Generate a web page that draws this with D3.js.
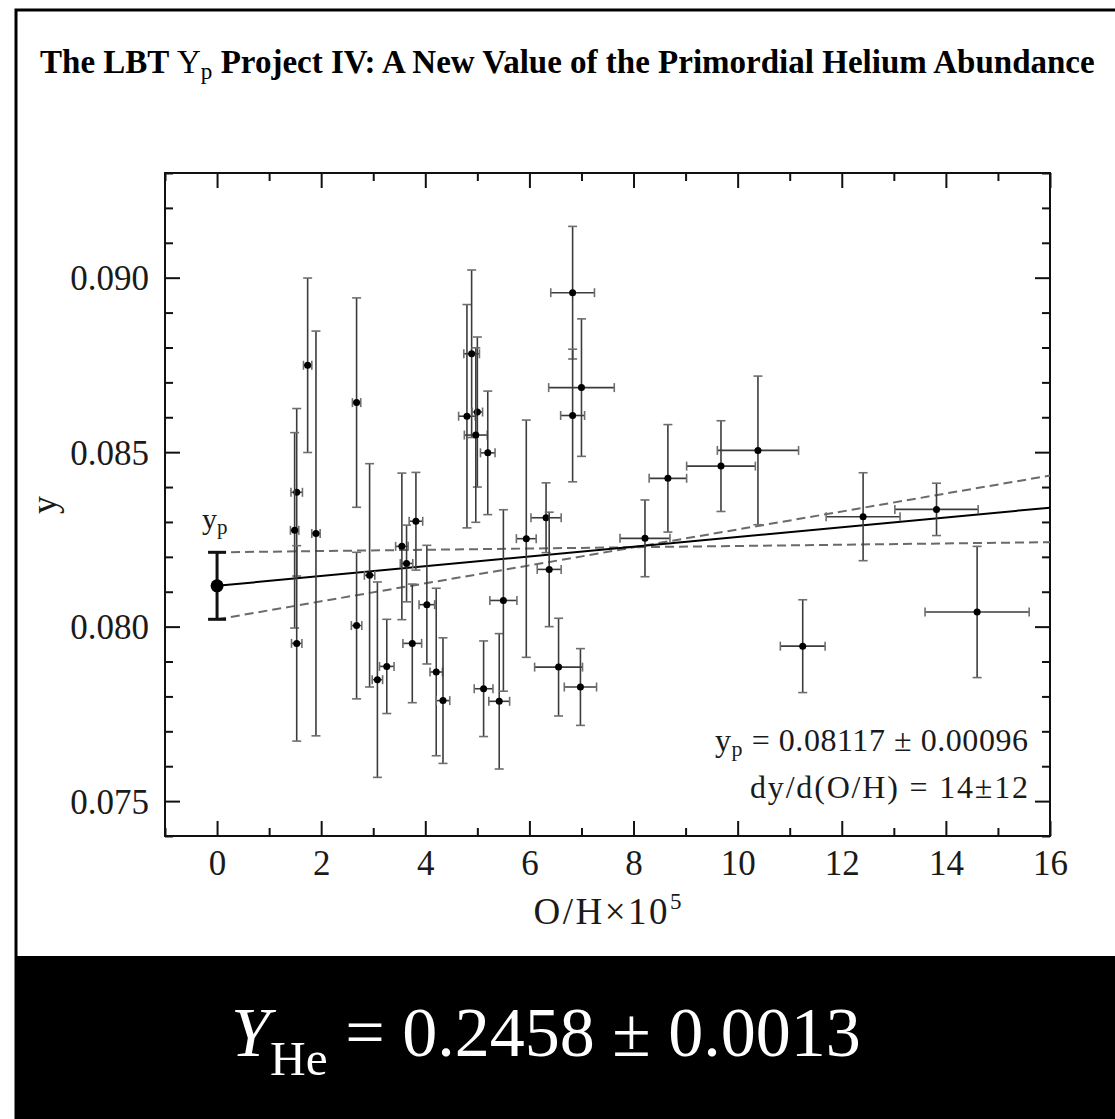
<!DOCTYPE html>
<html><head><meta charset="utf-8">
<script src="https://cdn.jsdelivr.net/npm/d3@7"></script>
<style>
html,body{margin:0;padding:0;background:#fff;}
svg{display:block;}
text{font-family:"Liberation Serif","Times New Roman",serif;}
</style></head>
<body>
<svg id="chart" width="1115" height="1119"></svg>
<script>
// ---------- data ----------
const ohValues = [1.53,1.49,1.53,1.74,1.90,2.68,2.68,2.93,3.08,3.26,3.55,3.64,3.75,3.82,4.03,4.21,4.34,4.80,4.89,5.00,4.97,5.20,5.12,5.42,5.50,5.94,6.32,6.38,6.56,6.83,6.83,7.00,6.98,8.22,8.66,9.68,10.39,11.25,12.41,13.82,14.60];
const ohErrors = [0.11,0.08,0.10,0.08,0.08,0.08,0.10,0.10,0.10,0.14,0.12,0.12,0.18,0.13,0.15,0.12,0.13,0.16,0.15,0.10,0.22,0.14,0.18,0.20,0.26,0.19,0.29,0.23,0.46,0.42,0.23,0.63,0.31,0.48,0.36,0.66,0.78,0.43,0.71,0.80,1.00];
const yValues = [0.08385,0.08276,0.07952,0.08749,0.08267,0.08642,0.08003,0.08147,0.07848,0.07886,0.08230,0.08181,0.07952,0.08302,0.08063,0.07870,0.07788,0.08603,0.08782,0.08615,0.08549,0.08498,0.07822,0.07786,0.08075,0.08252,0.08312,0.08164,0.07884,0.08957,0.08605,0.08685,0.07827,0.08253,0.08425,0.08460,0.08505,0.07944,0.08315,0.08336,0.08042];
const yErrors = [0.0024,0.0028,0.0028,0.0025,0.0058,0.0030,0.0021,0.0032,0.0028,0.00135,0.0021,0.0011,0.0017,0.0014,0.0017,0.0024,0.0018,0.0032,0.0024,0.00215,0.0025,0.00177,0.00137,0.00194,0.0026,0.0034,0.0010,0.00164,0.0014,0.0019,0.0019,0.00197,0.0011,0.0011,0.00154,0.0013,0.00213,0.00133,0.00126,0.00075,0.00188];

const ypValue = 0.08117, ypError = 0.00096;
const fitX = [0, 16];
const fitY = [0.08117, 0.08341];
const upperY = [0.08213, 0.08242];
const lowerY = [0.08021, 0.08433];

const xTicks = [0,2,4,6,8,10,12,14,16];
const xMinorTicks = [-1,1,3,5,7,9,11,13,15];
const yTicks = [0.075,0.080,0.085,0.090];
const yMinorTicks = [0.074,0.076,0.077,0.078,0.079,0.081,0.082,0.083,0.084,0.086,0.087,0.088,0.089,0.091,0.092,0.093];

const titleParts = ["The LBT ", "Y", "p", " Project IV: A New Value of the Primordial Helium Abundance"];
const resultParts = ["Y", "He", " = 0.2458 \u00b1 0.0013"];
const annot1 = ["y", "p", " = 0.08117 \u00b1 0.00096"];
const annot2 = "dy/d(O/H) = 14\u00b112";
const xLabel = ["O/H\u00d710", "5"];
const yLabel = "y";

// ---------- layout ----------
const svg = d3.select("#chart");
const L = 165, R = 1050, T = 173, B = 836;
const x = d3.scaleLinear().domain([-1, 16]).range([L, R]);
const y = d3.scaleLinear().domain([0.074, 0.093]).range([B, T]);
const txt = "#1a1a1a";

// outer frame and black band
svg.append("rect").attr("x",0).attr("y",0).attr("width",1115).attr("height",1119).attr("fill","#fff");
svg.append("rect").attr("x",16).attr("y",10).attr("width",1110).attr("height",1120)
  .attr("fill","none").attr("stroke","#000").attr("stroke-width",3);
svg.append("rect").attr("x",16).attr("y",956).attr("width",1100).attr("height",170).attr("fill","#000");

// title
const title = svg.append("text").attr("x",40).attr("y",73).attr("font-size",31).attr("fill","#000");
title.append("tspan").attr("font-weight","bold").text(titleParts[0]);
title.append("tspan").text(titleParts[1]);
title.append("tspan").attr("font-size","0.7em").attr("dy",6).text(titleParts[2]);
title.append("tspan").attr("font-weight","bold").attr("dy",-6).text(titleParts[3]);
(function fit(){ const w = title.node().getComputedTextLength(); const fs = 31*1055/w; title.attr("font-size",fs); })();

// plot group
const g = svg.append("g");

// axes via d3
const axB = d3.axisBottom(x).tickValues(xTicks).tickSize(-15).tickFormat(d=>d);
const axBm = d3.axisBottom(x).tickValues(xMinorTicks).tickSize(-8).tickFormat("");
const axT = d3.axisTop(x).tickValues(xTicks).tickSize(-15).tickFormat("");
const axTm = d3.axisTop(x).tickValues(xMinorTicks).tickSize(-8).tickFormat("");
const axL = d3.axisLeft(y).tickValues(yTicks).tickSize(-15).tickFormat(d3.format(".3f"));
const axLm = d3.axisLeft(y).tickValues(yMinorTicks).tickSize(-8).tickFormat("");
const axR = d3.axisRight(y).tickValues(yTicks).tickSize(-15).tickFormat("");
const axRm = d3.axisRight(y).tickValues(yMinorTicks).tickSize(-8).tickFormat("");

function styleAxis(sel){
  sel.select(".domain").remove();
  sel.selectAll(".tick line").attr("stroke","#111").attr("stroke-width",2);
  sel.selectAll(".tick text").attr("font-family","'Liberation Serif',serif").attr("font-size",35).attr("fill",txt);
}
g.append("g").attr("transform",`translate(0,${B})`).call(axB).call(styleAxis).selectAll(".tick text").attr("dy",null).attr("y",39);
g.append("g").attr("transform",`translate(0,${B})`).call(axBm).call(styleAxis);
g.append("g").attr("transform",`translate(0,${T})`).call(axT).call(styleAxis);
g.append("g").attr("transform",`translate(0,${T})`).call(axTm).call(styleAxis);
g.append("g").attr("transform",`translate(${L},0)`).call(axL).call(styleAxis).selectAll(".tick text").attr("x",-16).attr("dy","0.34em");
g.append("g").attr("transform",`translate(${L},0)`).call(axLm).call(styleAxis);
g.append("g").attr("transform",`translate(${R},0)`).call(axR).call(styleAxis);
g.append("g").attr("transform",`translate(${R},0)`).call(axRm).call(styleAxis);

// frame
g.append("rect").attr("x",L).attr("y",T).attr("width",R-L).attr("height",B-T)
  .attr("fill","none").attr("stroke","#111").attr("stroke-width",2);

// fit lines
const line = d3.line().x(d=>x(d[0])).y(d=>y(d[1]));
g.append("path").datum(fitX.map((v,i)=>[v,upperY[i]])).attr("d",line)
  .attr("stroke","#6a6a6a").attr("stroke-width",2).attr("stroke-dasharray","9,5").attr("fill","none");
g.append("path").datum(fitX.map((v,i)=>[v,lowerY[i]])).attr("d",line)
  .attr("stroke","#6a6a6a").attr("stroke-width",2).attr("stroke-dasharray","9,5").attr("fill","none");
g.append("path").datum(fitX.map((v,i)=>[v,fitY[i]])).attr("d",line)
  .attr("stroke","#000").attr("stroke-width",2).attr("fill","none");

// data with error bars
const data = ohValues.map((v,i)=>({x:v,xe:ohErrors[i],y:yValues[i],ye:yErrors[i]}));
const pts = g.append("g").selectAll("g").data(data).join("g");
const ec = "#3c3c3c", cc = "#6e6e6e";
pts.append("line").attr("x1",d=>x(d.x)).attr("x2",d=>x(d.x)).attr("y1",d=>y(d.y-d.ye)).attr("y2",d=>y(d.y+d.ye))
  .attr("stroke",ec).attr("stroke-width",1.6);
pts.append("line").attr("x1",d=>x(d.x-d.xe)).attr("x2",d=>x(d.x+d.xe)).attr("y1",d=>y(d.y)).attr("y2",d=>y(d.y))
  .attr("stroke",ec).attr("stroke-width",1.6);
[-1,1].forEach(s=>{
  pts.append("line").attr("x1",d=>x(d.x)-4.5).attr("x2",d=>x(d.x)+4.5).attr("y1",d=>y(d.y+s*d.ye)).attr("y2",d=>y(d.y+s*d.ye))
    .attr("stroke",cc).attr("stroke-width",1.6);
  pts.append("line").attr("x1",d=>x(d.x+s*d.xe)).attr("x2",d=>x(d.x+s*d.xe)).attr("y1",d=>y(d.y)-4.5).attr("y2",d=>y(d.y)+4.5)
    .attr("stroke",cc).attr("stroke-width",1.6);
});
pts.append("circle").attr("cx",d=>x(d.x)).attr("cy",d=>y(d.y)).attr("r",3.5).attr("fill","#000");

// yp point
g.append("line").attr("x1",x(0)).attr("x2",x(0)).attr("y1",y(ypValue-ypError)).attr("y2",y(ypValue+ypError))
  .attr("stroke","#111").attr("stroke-width",3);
[-1,1].forEach(s=>g.append("line").attr("x1",x(0)-9).attr("x2",x(0)+9)
  .attr("y1",y(ypValue+s*ypError)).attr("y2",y(ypValue+s*ypError)).attr("stroke","#111").attr("stroke-width",3));
g.append("circle").attr("cx",x(0)).attr("cy",y(ypValue)).attr("r",6.5).attr("fill","#000");

// yp label
const ypl = g.append("text").attr("x",x(0)-15).attr("y",529).attr("font-size",30).attr("fill",txt);
ypl.append("tspan").text("y");
ypl.append("tspan").attr("font-size",21).attr("dy",5).text("p");

// annotation
const a1 = g.append("text").attr("x",1028).attr("y",751).attr("font-size",32).attr("text-anchor","end").attr("fill",txt)
  .attr("textLength",313).attr("lengthAdjust","spacing");
a1.append("tspan").text(annot1[0]);
a1.append("tspan").attr("font-size",22).attr("dy",5).text(annot1[1]);
a1.append("tspan").attr("dy",-5).text(annot1[2]);
g.append("text").attr("x",1028).attr("y",798).attr("font-size",32).attr("text-anchor","end").attr("fill",txt)
  .attr("textLength",278).attr("lengthAdjust","spacing").text(annot2);

// axis labels
const xl = g.append("text").attr("x",(L+R)/2).attr("y",924).attr("font-size",37).attr("text-anchor","middle").attr("fill",txt)
  .attr("textLength",148).attr("lengthAdjust","spacing");
xl.append("tspan").text(xLabel[0]);
xl.append("tspan").attr("font-size",23).attr("dy",-15).text(xLabel[1]);
g.append("text").attr("transform","translate(56,505) rotate(-90)").attr("font-size",36).attr("text-anchor","middle").attr("fill",txt).text(yLabel);

// bottom result
const res = svg.append("text").attr("x",231).attr("y",1056).attr("font-size",68).attr("fill","#fff");
res.append("tspan").attr("font-style","italic").text(resultParts[0]);
res.append("tspan").attr("font-size",48).attr("dy",19).text(resultParts[1]);
res.append("tspan").attr("dy",-19).text(resultParts[2]);
(function fit2(){ const w = res.node().getComputedTextLength(); const k = 630/w; res.attr("font-size",68*k); res.selectAll("tspan").filter((d,i)=>i===1).attr("font-size",48*k); })();
</script>
</body></html>
